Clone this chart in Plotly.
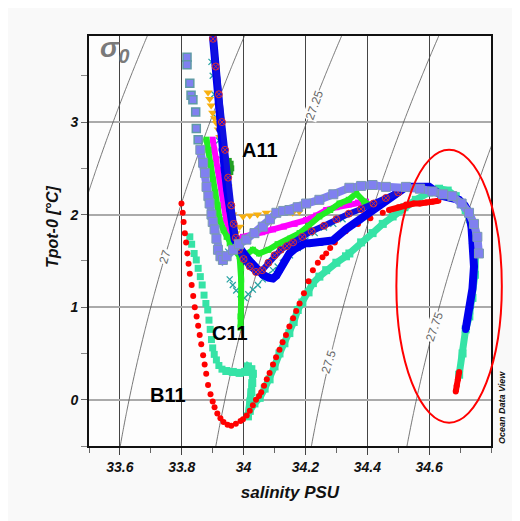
"""Potential temperature vs salinity (T-S) diagram with sigma-0 isopycnals."""
import numpy as np
import plotly.graph_objects as go

FONT = "Liberation Sans, Arial, sans-serif"
X_RANGE = [33.5, 34.8]
Y_RANGE = [-0.5, 3.93]
x_ticks = [33.6, 33.8, 34.0, 34.2, 34.4, 34.6]
x_tick_text = ["33.6", "33.8", "34", "34.2", "34.4", "34.6"]
y_ticks = [0, 1, 2, 3]

# --- B11 (red) --------------------------------------------------------------
b11_dots_s = [33.799, 33.803, 33.806, 33.810, 33.814, 33.818, 33.822, 33.826, 33.832, 33.837,
              33.842, 33.848, 33.853, 33.858, 33.863, 33.869, 33.874, 33.879, 33.885, 33.893,
              33.900, 33.906, 33.915, 33.925, 33.935, 33.948, 33.960, 33.975, 33.990, 33.998,
              34.010, 34.020, 34.030, 34.040, 34.050, 34.057, 34.066, 34.075, 34.084, 34.095,
              34.105, 34.116, 34.126, 34.137, 34.148, 34.160, 34.170, 34.181, 34.195, 34.210,
              34.224, 34.240, 34.255, 34.267, 34.280, 34.295, 34.304, 34.330, 34.370, 34.410,
              34.450]
b11_dots_t = [2.12, 2.02, 1.92, 1.80, 1.70, 1.58, 1.47, 1.36, 1.24, 1.12,
              1.00, 0.90, 0.80, 0.70, 0.60, 0.48, 0.38, 0.28, 0.16, 0.06,
              -0.02, -0.08, -0.15, -0.20, -0.24, -0.27, -0.28, -0.26, -0.23, -0.21,
              -0.17, -0.12, -0.06, 0.00, 0.04, 0.08, 0.15, 0.22, 0.29, 0.38,
              0.46, 0.54, 0.62, 0.70, 0.79, 0.88, 0.96, 1.04, 1.15, 1.28,
              1.40, 1.48, 1.54, 1.58, 1.64, 1.70, 1.76, 1.82, 1.90, 1.96,
              2.02]
b11_top_s = [34.47, 34.50, 34.525, 34.55, 34.57, 34.59, 34.611, 34.63]
b11_top_t = [2.05, 2.08, 2.11, 2.12, 2.12, 2.13, 2.14, 2.15]
b11_deep_s = [34.697, 34.693, 34.689, 34.686]
b11_deep_t = [0.30, 0.22, 0.15, 0.09]

# --- C11 (aquamarine) -------------------------------------------------------
c11_dots_s = [33.826, 33.832, 33.840, 33.847, 33.853, 33.860, 33.866, 33.872, 33.878, 33.884,
              33.888, 33.892, 33.896, 33.900, 33.905, 33.912, 33.920, 33.930]
c11_dots_t = [1.76, 1.68, 1.58, 1.51, 1.42, 1.33, 1.24, 1.13, 1.04, 0.97,
              0.86, 0.76, 0.65, 0.56, 0.49, 0.43, 0.37, 0.33]
c11_track_s = [33.944, 33.965, 33.987, 34.005, 34.014, 34.025, 34.030, 34.028, 34.025, 34.022,
               34.014, 34.020, 34.035, 34.052, 34.068, 34.084, 34.100, 34.116, 34.132, 34.148,
               34.162, 34.175, 34.190, 34.210, 34.224, 34.245, 34.267, 34.300, 34.331, 34.342,
               34.380, 34.417, 34.450, 34.482, 34.520, 34.557, 34.600, 34.632, 34.660, 34.686,
               34.705, 34.718, 34.732, 34.742, 34.750, 34.748, 34.740, 34.730, 34.718, 34.708,
               34.697]
c11_track_t = [0.31, 0.30, 0.29, 0.30, 0.36, 0.33, 0.28, 0.18, 0.08, -0.02,
               -0.18, -0.12, -0.04, 0.02, 0.12, 0.22, 0.36, 0.50, 0.61, 0.72,
               0.84, 0.97, 1.05, 1.16, 1.26, 1.33, 1.40, 1.48, 1.55, 1.58,
               1.70, 1.80, 1.90, 1.98, 2.08, 2.16, 2.24, 2.28, 2.26, 2.20,
               2.12, 2.05, 1.95, 1.87, 1.58, 1.35, 1.10, 0.90, 0.76, 0.50,
               0.27]

# --- teal crosses -----------------------------------------------------------
teal_s = [33.896, 33.900, 33.905, 33.912, 33.920, 33.928, 33.936, 33.944, 33.950, 33.955,
          33.965, 33.976, 33.990, 34.003, 34.015, 34.030, 34.046, 34.062, 34.078, 34.095,
          34.110, 34.127, 34.150, 34.175, 34.200, 34.230, 34.260, 34.290, 34.320]
teal_t = [3.65, 3.50, 3.30, 3.05, 2.80, 2.50, 2.20, 1.90, 1.60, 1.30,
          1.24, 1.18, 1.14, 1.10, 1.14, 1.19, 1.24, 1.30, 1.35, 1.40,
          1.44, 1.48, 1.56, 1.64, 1.72, 1.80, 1.86, 1.90, 1.95]

# --- orange triangles -------------------------------------------------------
orange_s = [33.885, 33.890, 33.895, 33.900, 33.906, 33.912, 33.918, 33.923, 33.935, 33.950,
            33.965, 33.975, 33.987, 33.998, 34.020, 34.045, 34.073, 34.100, 34.130, 34.159,
            34.180]
orange_t = [3.32, 3.25, 3.18, 3.10, 3.04, 2.99, 2.92, 2.84, 2.60, 2.30,
            2.00, 1.80, 1.87, 1.98, 1.99, 2.00, 2.02, 2.02, 2.03, 2.02,
            2.03]

# --- magenta ----------------------------------------------------------------
magenta_s = [33.900, 33.905, 33.912, 33.918, 33.923, 33.930, 33.936, 33.944, 33.955, 33.975,
             33.998, 34.030, 34.060, 34.095, 34.130, 34.165, 34.202, 34.235, 34.267, 34.300,
             34.340, 34.370, 34.396]
magenta_t = [2.81, 2.70, 2.60, 2.48, 2.38, 2.24, 2.10, 1.94, 1.82, 1.72,
             1.76, 1.78, 1.81, 1.84, 1.87, 1.90, 1.94, 1.99, 2.05, 2.08,
             2.11, 2.13, 2.14]

# --- green ------------------------------------------------------------------
green_a_s = [33.880, 33.886, 33.893, 33.900, 33.908, 33.916, 33.923, 33.935, 33.945, 33.955,
             33.970, 33.987, 33.992, 33.992, 33.992, 33.990, 33.990]
green_a_t = [2.81, 2.70, 2.55, 2.38, 2.24, 2.10, 1.94, 1.83, 1.76, 1.69,
             1.62, 1.55, 1.42, 1.30, 1.10, 0.90, 0.78]
green_b_s = [34.000, 34.030, 34.050, 34.080, 34.110, 34.150, 34.181, 34.210, 34.245, 34.280,
             34.310, 34.340, 34.364, 34.390, 34.410, 34.430]
green_b_t = [1.55, 1.62, 1.58, 1.62, 1.68, 1.74, 1.80, 1.88, 1.98, 2.05,
             2.12, 2.16, 2.23, 2.14, 2.10, 2.10]
dkgreen_s = [33.952, 33.958, 33.960, 33.957]
dkgreen_t = [2.58, 2.55, 2.50, 2.46]

# --- blue (A11) -------------------------------------------------------------
blue_s = [33.901, 33.906, 33.912, 33.918, 33.923, 33.930, 33.939, 33.947, 33.955, 33.963,
          33.971, 33.985, 33.998, 34.012, 34.025, 34.045, 34.062, 34.080, 34.095, 34.106,
          34.116, 34.132, 34.148, 34.165, 34.181, 34.200, 34.213, 34.250, 34.288, 34.330,
          34.374, 34.410, 34.449, 34.490, 34.525, 34.560, 34.600, 34.643, 34.670, 34.697,
          34.715, 34.729, 34.737, 34.740, 34.745, 34.740, 34.732, 34.725, 34.718]
blue_t = [3.92, 3.70, 3.46, 3.20, 2.92, 2.70, 2.48, 2.26, 2.05, 1.90,
          1.73, 1.65, 1.58, 1.53, 1.48, 1.40, 1.35, 1.32, 1.31, 1.34,
          1.40, 1.50, 1.58, 1.63, 1.66, 1.69, 1.69, 1.70, 1.72, 1.84,
          1.94, 2.03, 2.12, 2.22, 2.30, 2.30, 2.30, 2.20, 2.18, 2.16,
          2.10, 2.02, 1.86, 1.69, 1.44, 1.20, 1.00, 0.88, 0.76]
bluex_s = [33.901, 33.910, 33.920, 33.930, 33.940, 33.950, 33.960, 33.968, 33.975, 33.985,
           34.000, 34.020, 34.040, 34.060, 34.080, 34.100, 34.120, 34.140, 34.160, 34.190,
           34.220, 34.260, 34.300, 34.340, 34.380, 34.420, 34.460, 34.500]
bluex_t = [3.90, 3.60, 3.30, 3.00, 2.70, 2.40, 2.10, 1.90, 1.75, 1.62,
           1.52, 1.44, 1.38, 1.40, 1.48, 1.56, 1.62, 1.66, 1.70, 1.76,
           1.82, 1.88, 1.95, 2.01, 2.06, 2.12, 2.18, 2.24]

# --- slate blue -------------------------------------------------------------
slate_dots_s = [33.817, 33.817, 33.826, 33.830, 33.836, 33.845, 33.847, 33.853]
slate_dots_t = [3.70, 3.62, 3.42, 3.29, 3.24, 3.11, 2.93, 2.81]
slate_s = [33.860, 33.869, 33.875, 33.880, 33.886, 33.890, 33.896, 33.900, 33.906, 33.912,
           33.917, 33.925, 33.933, 33.945, 33.966, 33.985, 34.009, 34.035, 34.062, 34.085,
           34.106, 34.128, 34.148, 34.175, 34.202, 34.245, 34.290, 34.342, 34.380, 34.417,
           34.460, 34.525, 34.570, 34.611, 34.645, 34.675, 34.705, 34.729, 34.745, 34.756,
           34.761]
slate_t = [2.70, 2.56, 2.45, 2.30, 2.20, 2.12, 2.00, 1.92, 1.84, 1.74,
           1.62, 1.55, 1.51, 1.55, 1.62, 1.68, 1.73, 1.80, 1.87, 1.95,
           2.02, 2.04, 2.05, 2.08, 2.12, 2.16, 2.22, 2.29, 2.31, 2.32,
           2.30, 2.30, 2.28, 2.25, 2.22, 2.20, 2.12, 2.02, 1.90, 1.76,
           1.58]

# isopycnal levels and label positions (S, T, angle)
sigma_levels = [26.75, 27.0, 27.25, 27.5, 27.75]
iso_labels = ["27", "27.25", "27.5", "27.75"]
iso_label_s = [33.745, 34.229, 34.277, 34.616]
iso_label_t = [1.545, 3.186, 0.414, 0.79]
iso_label_angle = [-73, -70, -73, -71]

# highlighted region (ellipse bounds in S / T)
ellipse_s = [34.494, 34.835]
ellipse_t = [-0.248, 2.70]

PLOT_BG = "#fdfdfd"


def sigma0(s, t):
    """UNESCO EOS-80 density anomaly at p=0."""
    rw = (999.842594 + 6.793952e-2 * t - 9.095290e-3 * t ** 2 + 1.001685e-4 * t ** 3
          - 1.120083e-6 * t ** 4 + 6.536332e-9 * t ** 5)
    a = 0.824493 - 4.0899e-3 * t + 7.6438e-5 * t ** 2 - 8.2467e-7 * t ** 3 + 5.3875e-9 * t ** 4
    b = -5.72466e-3 + 1.0227e-4 * t - 1.6546e-6 * t ** 2
    return rw + a * s + b * s ** 1.5 + 4.8314e-4 * s ** 2 - 1000.0


def px(s):
    return (s - X_RANGE[0]) / (X_RANGE[1] - X_RANGE[0])


def py(t):
    return (t - Y_RANGE[0]) / (Y_RANGE[1] - Y_RANGE[0])


fig = go.Figure()

grid_s = np.linspace(33.3, 35.0, 171)
grid_t = np.linspace(-1.0, 4.5, 111)
gs, gt = np.meshgrid(grid_s, grid_t)
fig.add_trace(go.Contour(
    x=grid_s, y=grid_t, z=sigma0(gs, gt),
    contours=dict(start=sigma_levels[0], end=sigma_levels[-1], size=0.25, coloring="none"),
    line=dict(color="#555555", width=0.8), showscale=False, hoverinfo="skip",
))


def track(s, t, color, mode="lines+markers", size=6, symbol="square", width=6,
          outline=None, outline_w=0):
    fig.add_trace(go.Scatter(
        x=s, y=t, mode=mode, hoverinfo="skip",
        line=dict(color=color, width=width),
        marker=dict(color=color, size=size, symbol=symbol,
                    line=dict(color=outline or color, width=outline_w)),
    ))


track(teal_s, teal_t, "#2aa4a4", mode="markers", size=6, symbol="x-thin-open",
      outline="#2aa4a4", outline_w=1.3)
track(orange_s, orange_t, "#f8b010", mode="markers", size=8, symbol="triangle-down")
track(c11_dots_s, c11_dots_t, "#36e3a6", mode="markers", size=7)
track(c11_track_s, c11_track_t, "#36e3a6", size=8, width=7)
track(b11_dots_s, b11_dots_t, "#ff0000", mode="markers", size=6, symbol="circle")
track(b11_top_s, b11_top_t, "#ff0000", size=6, symbol="circle", width=6)
track(b11_deep_s, b11_deep_t, "#ff0000", size=6, symbol="circle", width=6)
track(magenta_s, magenta_t, "#ff00ff", size=6, width=6)
track(green_a_s, green_a_t, "#22ee22", size=6, width=6)
track(green_b_s, green_b_t, "#22ee22", size=6, width=6)
track(dkgreen_s, dkgreen_t, "#22a022", mode="markers", size=6)
track(blue_s, blue_t, "#0000ee", size=7, symbol="circle", width=8)
track(bluex_s, bluex_t, "#1010e0", size=7, symbol="circle-x", width=6,
      outline="#e03030", outline_w=1)
track(slate_dots_s, slate_dots_t, "#8080f0", mode="markers", size=8,
      outline="#5f9aa5", outline_w=1.5)
track(slate_s, slate_t, "#8080f0", size=9, width=8, outline="#7a9ab0", outline_w=1)

annotations = []
for text, s, t, ang in zip(iso_labels, iso_label_s, iso_label_t, iso_label_angle):
    annotations.append(dict(
        x=s, y=t, xref="x", yref="y", text=text, showarrow=False, textangle=ang,
        font=dict(family=FONT, size=12, color="#666666"), bgcolor=PLOT_BG, borderpad=0,
    ))

bold = dict(family=FONT, size=20, color="#000000", weight="bold")
annotations += [
    dict(x=34.052, y=2.70, xref="x", yref="y", text="A11", showarrow=False, font=bold),
    dict(x=33.955, y=0.72, xref="x", yref="y", text="C11", showarrow=False, font=bold),
    dict(x=33.755, y=0.054, xref="x", yref="y", text="B11", showarrow=False, font=bold),
    dict(x=33.584, y=3.78, xref="x", yref="y", text="σ<sub>0</sub>", showarrow=False,
         font=dict(family=FONT, size=28, color="#7a7a7a", style="italic", weight="bold")),
    dict(x=1.027, y=0.095, xref="paper", yref="paper", text="Ocean Data View",
         showarrow=False, textangle=-90, xanchor="center", yanchor="middle",
         font=dict(family=FONT, size=9, color="#111111", style="italic", weight="bold")),
    dict(x=-0.092, y=0.534, xref="paper", yref="paper", text="Tpot-0 [°C]",
         showarrow=False, textangle=-90, xanchor="center", yanchor="middle",
         font=dict(family=FONT, size=16, color="#111111", style="italic", weight="bold")),
]

# the page body adds an 8px offset, so the figure is 8px smaller and shifted back
tick_font = dict(family=FONT, size=14, color="#111111", style="italic", weight="bold")
fig.update_layout(
    width=512, height=513,
    margin=dict(l=81, r=29, t=28, b=75, autoexpand=False),
    paper_bgcolor="#f9f9f9", plot_bgcolor=PLOT_BG,
    showlegend=False, hovermode=False,
    xaxis=dict(
        range=X_RANGE, tickmode="array", tickvals=x_ticks, ticktext=x_tick_text,
        ticks="outside", ticklen=7, tickcolor="#444",
        tickfont=tick_font, showgrid=True, gridcolor="#444444", gridwidth=1,
        zeroline=False, showline=True, linecolor="#111111", linewidth=2, mirror=True,
        minor=dict(dtick=0.1, tick0=33.5, ticks="outside", ticklen=5, tickcolor="#666",
                   showgrid=False),
        title=dict(text="salinity PSU", standoff=12,
                   font=dict(family=FONT, size=17, color="#111111", style="italic",
                             weight="bold")),
    ),
    yaxis=dict(
        range=Y_RANGE, tickmode="array", tickvals=y_ticks,
        ticks="outside", ticklen=6, tickcolor="#666",
        tickfont=tick_font, showgrid=True, gridcolor="#aaaaaa", gridwidth=2,
        zeroline=False, showline=True, linecolor="#111111", linewidth=2, mirror=True,
        minor=dict(dtick=0.5, tick0=0, ticks="outside", ticklen=6, tickcolor="#888",
                   showgrid=False),
    ),
    annotations=annotations,
    shapes=[dict(
        type="circle", xref="paper", yref="paper",
        x0=px(ellipse_s[0]), x1=px(ellipse_s[1]), y0=py(ellipse_t[0]), y1=py(ellipse_t[1]),
        line=dict(color="#ff0000", width=2),
    )],
)

fig.write_html("out.html")
